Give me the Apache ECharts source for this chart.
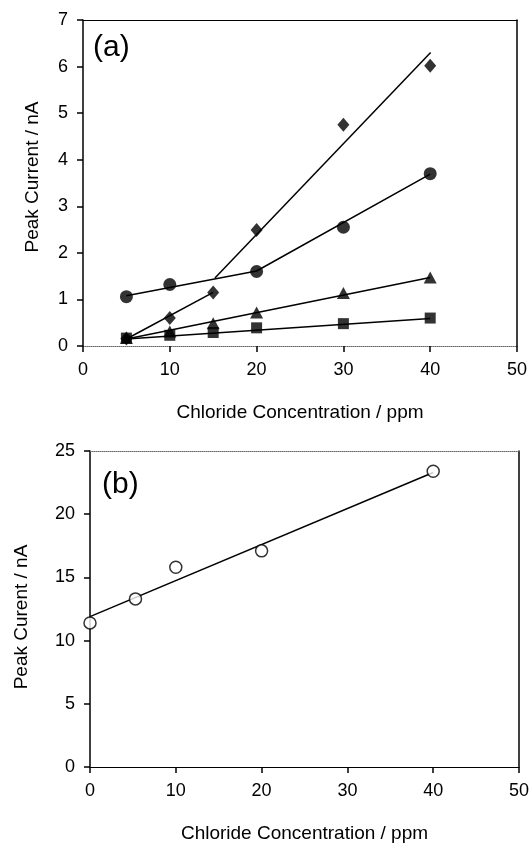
<!DOCTYPE html>
<html>
<head>
<meta charset="utf-8">
<script src="https://cdn.jsdelivr.net/npm/echarts@6/dist/echarts.min.js"></script>
<style>
  html, body { margin: 0; padding: 0; background: #fff; }
  #chart { width: 532px; height: 844px; }
</style>
</head>
<body>
<div id="chart"></div>
<script>
// panel (a): peak current vs chloride concentration, four series
const diamondPts = [[5, 0.16], [10, 0.60], [15, 1.15], [20, 2.49], [30, 4.75], [40, 6.02]];
const circlePts = [[5, 1.06], [10, 1.32], [20, 1.60], [30, 2.55], [40, 3.70]];
const trianglePts = [[5, 0.17], [10, 0.31], [15, 0.49], [20, 0.72], [30, 1.14], [40, 1.47]];
const squarePts = [[5, 0.17], [10, 0.23], [15, 0.29], [20, 0.39], [30, 0.48], [40, 0.60]];

// fitted lines in panel (a)
const diamondFitLow = [[5, 0.15], [15, 1.15]];
const diamondFitHigh = [[15.2, 1.46], [40.05, 6.30]];
const circleFit = [[5, 1.08], [20, 1.61], [40, 3.69]];
const triangleFit = [[5, 0.15], [40, 1.47]];
const squareFit = [[5, 0.15], [40, 0.59]];

// panel (b)
const openCirclePts = [[0, 11.4], [5.3, 13.3], [10, 15.8], [20, 17.1], [40, 23.4]];
const openCircleFit = [[0, 11.9], [40, 23.3]];

const FONT = "Liberation Sans";
const BLACK = "#000";

const chart = echarts.init(document.getElementById("chart"));

function mainX(gridIndex, lineType, lineColor) {
  return {
    gridIndex: gridIndex,
    type: "value",
    min: 0,
    max: 50,
    interval: 10,
    name: "Chloride Concentration / ppm",
    nameLocation: "middle",
    nameGap: 57,
    nameTextStyle: { fontFamily: FONT, fontSize: 19, color: BLACK },
    axisLine: { show: true, onZero: false, lineStyle: { color: lineColor, type: lineType, width: 1 } },
    axisTick: { show: true, inside: false, length: 6, lineStyle: { color: BLACK, width: 1.5 } },
    axisLabel: { fontFamily: FONT, fontSize: 18, color: BLACK, margin: 15 },
    splitLine: { show: false }
  };
}

function borderX(gridIndex, lineType, lineColor) {
  return {
    gridIndex: gridIndex,
    type: "value",
    position: "top",
    min: 0,
    max: 50,
    axisLine: { show: true, onZero: false, lineStyle: { color: lineColor, type: lineType, width: 1 } },
    axisTick: { show: false },
    axisLabel: { show: false },
    splitLine: { show: false }
  };
}

function mainY(gridIndex, max, interval, name, gap, pad) {
  return {
    gridIndex: gridIndex,
    type: "value",
    min: 0,
    max: max,
    interval: interval,
    name: name,
    nameLocation: "middle",
    nameGap: gap,
    nameTextStyle: { fontFamily: FONT, fontSize: 19, color: BLACK, padding: pad },
    axisLine: { show: true, onZero: false, lineStyle: { color: BLACK, width: 1.5 } },
    axisTick: { show: true, inside: false, length: 6, lineStyle: { color: BLACK, width: 1.5 } },
    axisLabel: { fontFamily: FONT, fontSize: 18, color: BLACK, margin: 15 },
    splitLine: { show: false }
  };
}

function borderY(gridIndex, max) {
  return {
    gridIndex: gridIndex,
    type: "value",
    position: "right",
    min: 0,
    max: max,
    axisLine: { show: true, onZero: false, lineStyle: { color: BLACK, width: 1.5 } },
    axisTick: { show: false },
    axisLabel: { show: false },
    splitLine: { show: false }
  };
}

function fitLine(data, xi, yi) {
  return {
    type: "line",
    xAxisIndex: xi,
    yAxisIndex: yi,
    data: data,
    symbol: "none",
    silent: true,
    z: 2,
    lineStyle: { color: BLACK, width: 1.5 }
  };
}

function markers(data, symbol, size, xi, yi, hollow) {
  return {
    type: "scatter",
    xAxisIndex: xi,
    yAxisIndex: yi,
    data: data,
    symbol: symbol,
    symbolSize: size,
    z: 5,
    itemStyle: hollow
      ? { color: "#fff", borderColor: BLACK, borderWidth: 1.5 }
      : { color: BLACK }
  };
}

const option = {
  animation: false,
  backgroundColor: "#fff",
  grid: [
    { left: 83, top: 20, width: 434, height: 326 },
    { left: 90, top: 451, width: 430, height: 316 }
  ],
  xAxis: [
    mainX(0, "dotted", "#666"),
    borderX(0, "solid", BLACK),
    mainX(1, "solid", BLACK),
    borderX(1, "dotted", "#666")
  ],
  yAxis: [
    mainY(0, 7, 1, "Peak Current / nA", 41, [0, 0, 0, 12]),
    borderY(0, 7),
    mainY(1, 25, 5, "Peak Curent / nA", 59, [0, 16, 0, 0]),
    borderY(1, 25)
  ],
  graphic: [
    { type: "text", left: 93, top: 33, style: { text: "(a)", font: "30px " + FONT, fill: BLACK } },
    { type: "text", left: 102, top: 470, style: { text: "(b)", font: "30px " + FONT, fill: BLACK } }
  ],
  series: [
    fitLine(diamondFitLow, 0, 0),
    fitLine(diamondFitHigh, 0, 0),
    fitLine(circleFit, 0, 0),
    fitLine(triangleFit, 0, 0),
    fitLine(squareFit, 0, 0),
    markers(squarePts, "rect", 11, 0, 0, false),
    markers(trianglePts, "triangle", [13, 12], 0, 0, false),
    markers(circlePts, "circle", 13, 0, 0, false),
    markers(diamondPts, "diamond", [12, 14], 0, 0, false),
    fitLine(openCircleFit, 2, 2),
    markers(openCirclePts, "circle", 12, 2, 2, true)
  ]
};

chart.setOption(option);
</script>
</body>
</html>
